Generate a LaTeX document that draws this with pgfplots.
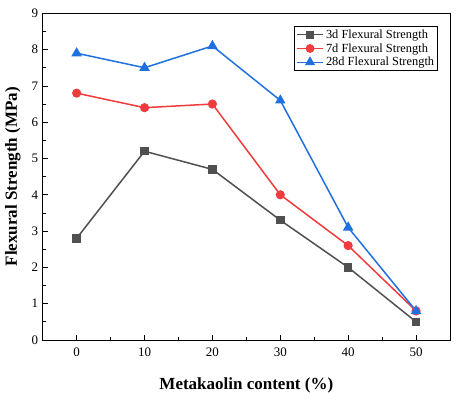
\documentclass[border=0pt]{standalone}
\usepackage{pgfplots}
\pgfplotsset{compat=1.18}
\usepackage{fontspec}
\setmainfont{Liberation Serif}
\definecolor{cgray}{HTML}{505050}
\definecolor{cred}{HTML}{F03C3C}
\definecolor{cblue}{HTML}{2070E0}
\begin{document}
\begin{tikzpicture}
\begin{axis}[
  scale only axis,
  width=407.3pt, height=326.7pt,
  xmin=-5, xmax=55, ymin=0, ymax=9,
  xtick={0,10,20,30,40,50},
  ytick={0,1,2,3,4,5,6,7,8,9},
  minor x tick num=1, minor y tick num=1,
  tick align=inside,
  xtick pos=bottom, ytick pos=left,
  tick style={black, line width=0.7pt},
  major tick length=5pt, minor tick length=3pt,
  axis line style={line width=0.9pt},
  /pgf/number format/assume math mode=true,
  ticklabel style={font=\fontsize{13}{15}\selectfont},
  xticklabel style={yshift=-4pt},
  yticklabel style={xshift=-1pt},
  xlabel={\textbf{Metakaolin content (\%)}},
  ylabel={\textbf{Flexural Strength (MPa)}},
  label style={font=\fontsize{17}{19}\selectfont},
  xlabel style={at={(axis description cs:0.5,0)}, anchor=base, yshift=-50pt},
  ylabel style={at={(axis description cs:-0.0926,0.5)}, anchor=north, inner sep=0pt},
  legend cell align=left,
  legend style={font=\fontsize{12.4}{13}\selectfont, draw=black, line width=0.7pt, row sep=-0.5pt, inner sep=1.5pt, at={(1,1)}, xshift=-12pt, yshift=-12.7pt, anchor=north east},
  legend image code/.code={\draw[mark repeat=2,mark phase=2] plot coordinates {(0cm,0cm)(0.47cm,0cm)(0.94cm,0cm)};},
  legend image post style={line width=1.2pt},
]
\addplot[cgray, line width=1.5pt, mark=square*, mark size=3.5pt] coordinates {
  (0,2.8) (10,5.2) (20,4.7) (30,3.3) (40,2.0) (50,0.5)};
\addlegendentry{3d Flexural Strength}
\addplot[cred, line width=1.5pt, mark=*, mark size=3.8pt] coordinates {
  (0,6.8) (10,6.4) (20,6.5) (30,4.0) (40,2.6) (50,0.8)};
\addlegendentry{7d Flexural Strength}
\addplot[cblue, line width=1.5pt, mark=triangle*, mark size=4.6pt] coordinates {
  (0,7.9) (10,7.5) (20,8.1) (30,6.6) (40,3.1) (50,0.8)};
\addlegendentry{28d Flexural Strength}
\end{axis}
\pgfresetboundingbox
\path (current axis.south west) ++(-42.7pt,-53pt) coordinate (bl);
\path (current axis.north east) ++(10pt,13.3pt) coordinate (tr);
\useasboundingbox (bl) rectangle (tr);
\end{tikzpicture}
\end{document}
